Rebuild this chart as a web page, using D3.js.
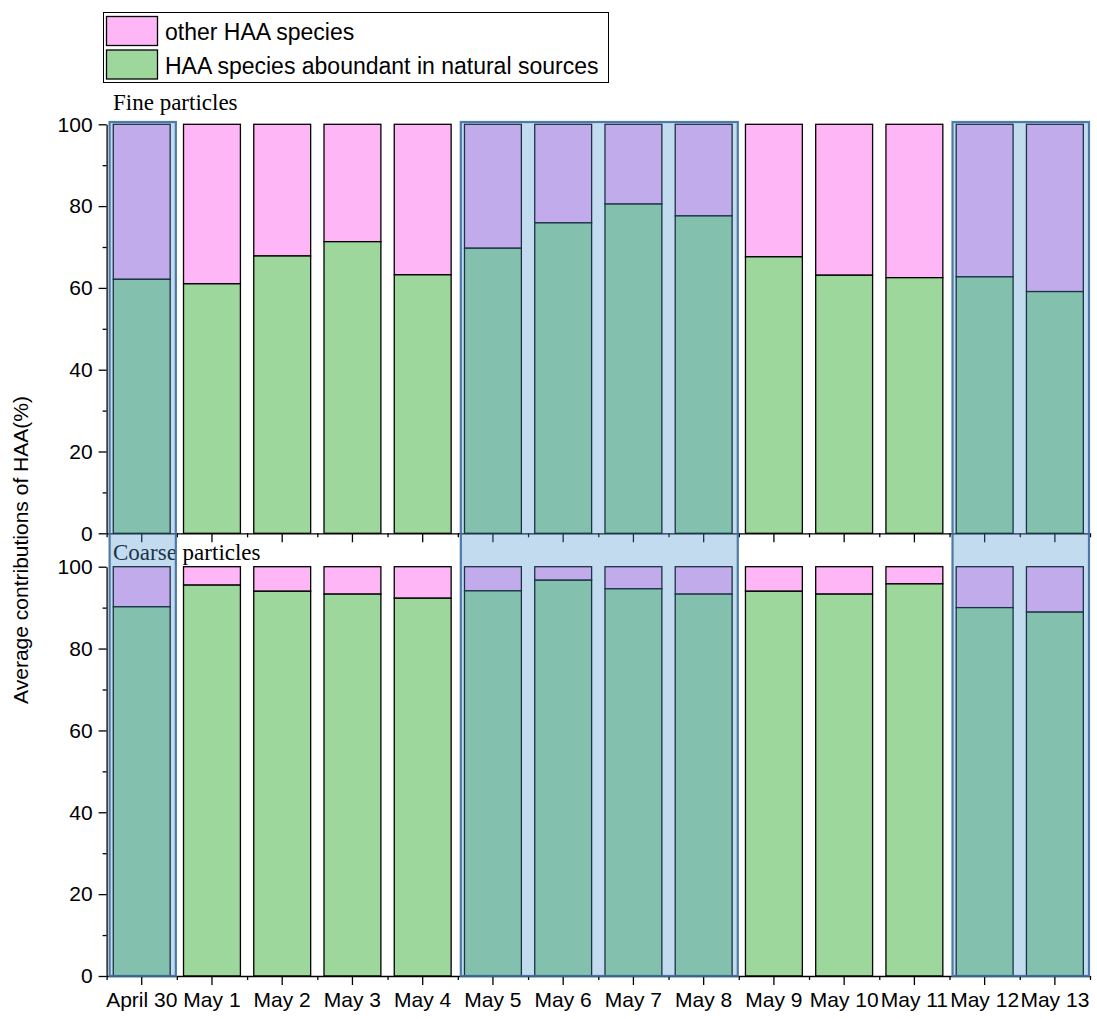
<!DOCTYPE html>
<html>
<head>
<meta charset="utf-8">
<script src="https://cdn.jsdelivr.net/npm/d3@7"></script>
<style>
  body { margin: 0; background: #fff; }
  svg { display: block; }
  text { font-family: "Liberation Sans", Arial, sans-serif; }
</style>
</head>
<body>
<div id="chart"></div>
<script>
// categories and values
const days = ['April 30', 'May 1', 'May 2', 'May 3', 'May 4', 'May 5', 'May 6',
  'May 7', 'May 8', 'May 9', 'May 10', 'May 11', 'May 12', 'May 13']
const fineNatural = [62.1, 61.0, 67.8, 71.3, 63.2, 69.7, 75.9, 80.5, 77.6, 67.6, 63.1, 62.5, 62.7, 59.1]
const coarseNatural = [90.2, 95.5, 94.0, 93.3, 92.3, 94.1, 96.7, 94.6, 93.3, 94.0, 93.3, 95.8, 90.0, 88.9]
const seriesNames = ['other HAA species', 'HAA species aboundant in natural sources']
const yTicks = [0, 20, 40, 60, 80, 100]
const yMinor = [10, 30, 50, 70, 90]
// highlighted day ranges
const highlights = [['April 30', 'April 30'], ['May 5', 'May 8'], ['May 12', 'May 13']]

const colOther = '#feb6f7'
const colNatural = '#9ed79c'

const W = 1097, H = 1019
const left = 106.6, right = 1090
const svg = d3.select('#chart').append('svg')
  .attr('width', W)
  .attr('height', H)

// x scale: bands with bars centered in each step
const pad = 0.19
const x = d3.scaleBand().domain(days).range([left, right])
  .paddingInner(pad).paddingOuter(pad / 2)
const step = x.step()
const xi = d3.scaleLinear().domain([0, days.length]).range([left, right])

const panels = [
  { name: 'Fine particles', vals: fineNatural, top: 124.3, bottom: 533.3, labels: false, titleY: 110 },
  { name: 'Coarse particles', vals: coarseNatural, top: 566.7, bottom: 976, labels: true, titleY: 560 }
]

panels.forEach(function (p) {
  const y = d3.scaleLinear().domain([0, 100]).range([p.bottom, p.top])
  const g = svg.append('g')

  // stacked bars
  const rows = days.map(function (d, i) {
    return { day: d, nat: p.vals[i] }
  })
  g.selectAll('rect.other').data(rows).enter().append('rect')
    .attr('x', d => x(d.day))
    .attr('width', x.bandwidth())
    .attr('y', y(100))
    .attr('height', d => y(d.nat) - y(100))
    .attr('fill', colOther)
    .attr('stroke', '#000')
    .attr('stroke-width', 1.3)
  g.selectAll('rect.nat').data(rows).enter().append('rect')
    .attr('x', d => x(d.day))
    .attr('width', x.bandwidth())
    .attr('y', d => y(d.nat))
    .attr('height', d => y(0) - y(d.nat))
    .attr('fill', colNatural)
    .attr('stroke', '#000')
    .attr('stroke-width', 1.3)

  // y axis
  const ya = g.append('g').attr('transform', 'translate(' + left + ',0)')
    .call(d3.axisLeft(y).tickValues(yTicks).tickSize(8).tickPadding(6).tickSizeOuter(0))
  ya.selectAll('text').style('font-size', '21px').attr('fill', '#000')
  g.append('g').attr('transform', 'translate(' + left + ',0)')
    .call(d3.axisLeft(y).tickValues(yMinor).tickSize(4).tickFormat('').tickSizeOuter(0))
    .select('.domain').remove()

  // x axis
  const xa = g.append('g').attr('transform', 'translate(0,' + p.bottom + ')')
    .call(d3.axisBottom(x).tickSize(9).tickSizeOuter(0).tickPadding(7))
  xa.selectAll('text').style('font-size', '21px').attr('fill', '#000')
  if (!p.labels) xa.selectAll('text').remove()
  g.append('g').attr('transform', 'translate(0,' + p.bottom + ')')
    .call(d3.axisBottom(xi).tickValues(d3.range(0, days.length + 1)).tickSize(4).tickFormat(''))
    .select('.domain').remove()
  g.selectAll('.domain, .tick line').attr('stroke', '#000').attr('stroke-width', 1.3)

  g.append('text')
    .attr('x', 113)
    .attr('y', p.titleY)
    .style('font-family', '"Liberation Serif", "Times New Roman", serif')
    .style('font-size', '23px')
    .text(p.name)
})

// translucent highlight boxes across both panels
highlights.forEach(function (h) {
  const x0 = x(h[0]) - step * pad / 2 + 3
  const x1 = x(h[1]) + x.bandwidth() + step * pad / 2 - 1
  svg.append('rect')
    .attr('x', x0)
    .attr('y', 122)
    .attr('width', x1 - x0)
    .attr('height', 976 - 122)
    .attr('fill', 'rgb(80,150,208)')
    .attr('fill-opacity', 0.34)
    .attr('stroke', '#3d6e9e')
    .attr('stroke-opacity', 0.9)
    .attr('stroke-width', 2.2)
})

// y axis title
svg.append('text')
  .attr('transform', 'translate(28,550) rotate(-90)')
  .attr('text-anchor', 'middle')
  .style('font-size', '21px')
  .text('Average contributions of HAA(%)')

// legend
const lg = svg.append('g')
lg.append('rect')
  .attr('x', 103.5).attr('y', 12.5).attr('width', 505).attr('height', 70)
  .attr('fill', '#fff').attr('stroke', '#000').attr('stroke-width', 1)
const legendCols = [colOther, colNatural]
seriesNames.forEach(function (n, i) {
  lg.append('rect')
    .attr('x', 106.5).attr('y', 16.5 + i * 33.5)
    .attr('width', 51).attr('height', 29)
    .attr('fill', legendCols[i]).attr('stroke', '#000').attr('stroke-width', 1.3)
  lg.append('text')
    .attr('x', 165).attr('y', 40 + i * 33.5)
    .style('font-size', '23px')
    .text(n)
})
</script>
</body>
</html>
